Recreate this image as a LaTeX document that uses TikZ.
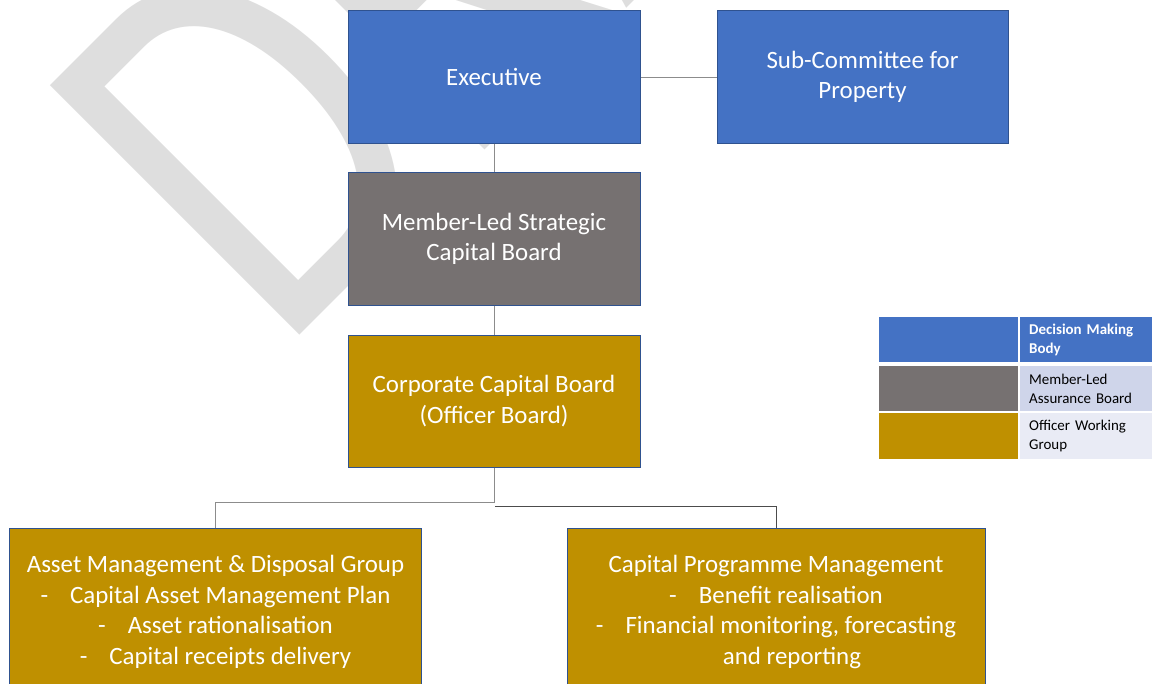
\documentclass[tikz,border=0pt]{standalone}
\usepackage{fontspec}
\usepackage{graphicx}
\setmainfont{Carlito}
\definecolor{deciblue}{HTML}{4472C4}
\definecolor{membgray}{HTML}{767171}
\definecolor{offgold}{HTML}{BF9000}
\definecolor{boxedge}{HTML}{2F528F}
\definecolor{rowblue}{HTML}{CFD5EA}
\definecolor{rowpale}{HTML}{E9EBF5}
\definecolor{wmgray}{HTML}{DEDEDE}
\definecolor{linegray}{HTML}{8C8C8C}
\begin{document}
\begin{tikzpicture}[x=1bp,y=-1bp,
  box/.style={draw=boxedge,line width=1bp,text=white,align=center,inner sep=0pt,
    font=\fontsize{25}{30.8}\selectfont},
  decision/.style={box,fill=deciblue,minimum width=292bp,minimum height=132bp},
  assurance/.style={box,fill=membgray,minimum width=292bp,minimum height=132bp},
  officer/.style={box,fill=offgold,minimum height=168bp},
  conn/.style={draw=linegray,line width=0.9bp},
  keycell/.style={anchor=west,inner sep=0pt,minimum width=139bp,minimum height=45bp},
  keytext/.style={anchor=west,inner xsep=9bp,inner ysep=0pt,text width=122bp,
    minimum height=45bp,align=left,font=\fontsize{15}{19}\selectfont}]
  \useasboundingbox (0,0) rectangle (1152,684);
  \clip (0,0) rectangle (1152,684);

  % watermark behind everything, squeezed along its baseline
  \node[rotate=45,anchor=base west,inner sep=0pt,text=wmgray,
    font=\fontsize{552}{552}\selectfont] (draft) at (279,356) {\scalebox{0.77}[1]{DRAFT}};

  % boards
  \node[decision] (exec) at (494,77) {Executive};
  \node[decision,minimum width=291bp] (subcom) at (862.5,77) {Sub-Committee for\\Property};
  \node[assurance] (memberled) at (494,239) {Member-Led Strategic\\Capital Board};
  \node[officer,minimum width=292bp,minimum height=132bp] (corporate) at (494,401)
    {Corporate Capital Board\\(Officer Board)};
  \node[officer,minimum width=411bp] (assetgrp) at (215.5,612)
    {Asset Management \& Disposal Group\\
     -\hspace{22bp}Capital Asset Management Plan\\
     -\hspace{22bp}Asset rationalisation\\
     -\hspace{22bp}Capital receipts delivery};
  \node[officer,minimum width=418bp] (capprog) at (776,612)
    {Capital Programme Management\\
     -\hspace{22bp}Benefit realisation\\
     -\hspace{22bp}Financial monitoring, forecasting\\
     \hspace*{32bp}and reporting};

  % connectors
  \draw[conn] (exec) -- (subcom);
  \draw[conn] (exec) -- (memberled);
  \draw[conn] (memberled) -- (corporate);
  \draw[conn] (corporate.south) -- ++(0,35) -| (assetgrp.north);
  \coordinate (split) at (495,506);
  \draw[conn,draw=black!70] (split) -| (capprog.north);

  % key
  \node[keycell,fill=deciblue] (keyA) at (879,339.5) {};
  \node[keycell,fill=membgray] (keyB) at (879,388.5) {};
  \node[keycell,fill=offgold,minimum height=46bp] (keyC) at (879,436) {};
  \node[keytext,fill=deciblue,text=white,font=\fontsize{15}{19}\selectfont\bfseries]
    (labA) at (1020,339.5) {Decision Making\\Body};
  \node[keytext,fill=rowblue] (labB) at (1020,388.5) {Member-Led\\Assurance Board};
  \node[keytext,fill=rowpale,minimum height=46bp] (labC) at (1020,436) {Officer Working\\Group};
\end{tikzpicture}
\end{document}
